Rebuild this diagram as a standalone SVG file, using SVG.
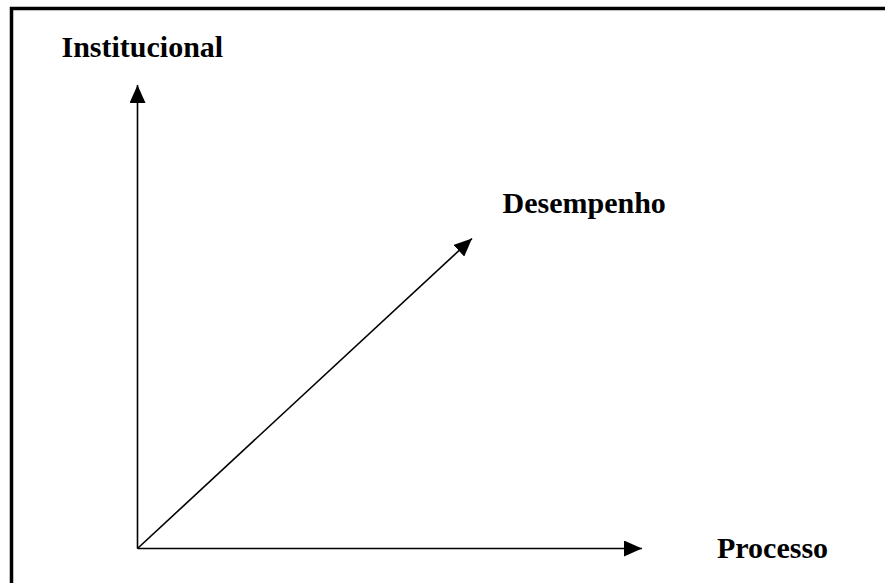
<svg xmlns="http://www.w3.org/2000/svg" width="885" height="583" viewBox="0 0 885 583">
  <defs>
    <style>
      .frame { fill: none; stroke: #000; stroke-width: 3.5; }
      .axis { fill: none; stroke: #000; stroke-width: 1.6; }
      .label { font-family: "Liberation Serif", "Times New Roman", serif; font-weight: bold; font-size: 30px; fill: #000; }
    </style>
    <marker id="arrow" viewBox="0 0 18 16" refX="18" refY="8" markerWidth="18" markerHeight="16" markerUnits="userSpaceOnUse" orient="auto">
      <path d="M0,0 L18,8 L0,16 Z" fill="#000"/>
    </marker>
  </defs>
  <rect width="885" height="583" fill="#fff"/>

  <!-- outer frame, open to the right and bottom -->
  <path class="frame" d="M11.5,600 V8.5 H900"/>

  <g id="connectors">
    <line class="axis" x1="137.5" y1="548.5" x2="137.5" y2="85" marker-end="url(#arrow)"/>
    <line class="axis" x1="137.5" y1="548.5" x2="642" y2="548.5" marker-end="url(#arrow)"/>
    <line class="axis" x1="137.5" y1="548.5" x2="472" y2="238.5" marker-end="url(#arrow)"/>
  </g>

  <g id="institucional">
    <text class="label" x="61.5" y="57">Institucional</text>
  </g>
  <g id="desempenho">
    <text class="label" x="502.5" y="213">Desempenho</text>
  </g>
  <g id="processo">
    <text class="label" x="717" y="558">Processo</text>
  </g>
</svg>
